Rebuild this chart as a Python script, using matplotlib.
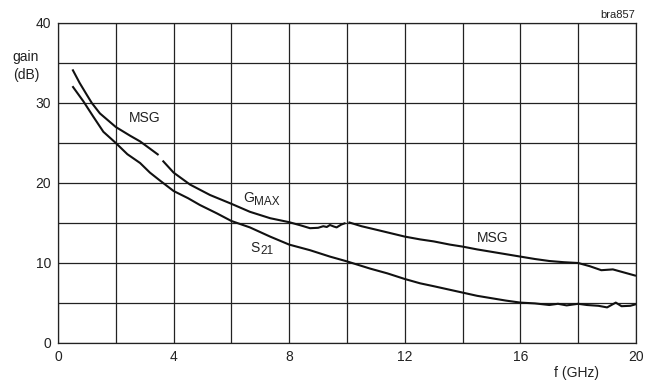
import numpy as np
import matplotlib
matplotlib.use("Agg")
import matplotlib.pyplot as plt

plt.rcParams['font.family'] = ['Liberation Sans', 'DejaVu Sans']

nan = np.nan
# upper curve: MSG / GMAX / MSG (gaps where the definition changes)
freq_g = [0.5, 0.75, 1.0, 1.17, 1.45, 2.0, 2.5, 2.84, 3.18, 3.48, nan,
          3.62, 4.0, 4.57, 5.26, 6.0, 6.64, 7.34, 8.0, 8.4, 8.72, 9.0, 9.18, 9.3,
          9.41, 9.55, 9.64, 9.8, 9.95, nan,
          10.05, 10.5, 11.14, 12.0, 12.53, 13.0, 13.56, 14.0, 14.5, 15.0, 15.5,
          16.0, 16.5, 17.0, 17.5, 18.0, 18.4, 18.8, 19.2, 19.6, 20.0]
gain_g = [34.2, 32.5, 31.0, 30.0, 28.7, 27.0, 25.9, 25.2, 24.3, 23.5, nan,
          22.8, 21.3, 19.8, 18.5, 17.4, 16.4, 15.6, 15.1, 14.7, 14.35, 14.4, 14.6, 14.5,
          14.75, 14.55, 14.45, 14.8, 15.0, nan,
          15.1, 14.6, 14.05, 13.3, 12.95, 12.7, 12.3, 12.05, 11.7, 11.4, 11.1,
          10.8, 10.5, 10.25, 10.1, 10.0, 9.6, 9.1, 9.2, 8.8, 8.4]

# lower curve: S21
freq_s = [0.5, 0.88, 1.22, 1.57, 2.0, 2.4, 2.84, 3.18, 3.53, 4.0, 4.5, 4.91,
          5.5, 6.0, 6.64, 7.34, 8.0, 8.72, 9.41, 10.0, 10.8, 11.4, 12.0, 12.53,
          13.0, 13.5, 14.0, 14.5, 15.0, 15.5, 16.0, 16.5, 17.0, 17.3, 17.6, 18.0,
          18.3, 18.7, 19.0, 19.3, 19.5, 19.8, 20.0]
gain_s = [32.1, 30.2, 28.3, 26.4, 25.0, 23.6, 22.5, 21.3, 20.3, 19.0, 18.1, 17.25,
          16.2, 15.25, 14.45, 13.3, 12.3, 11.6, 10.8, 10.2, 9.3, 8.7, 8.0, 7.46,
          7.1, 6.7, 6.3, 5.9, 5.6, 5.3, 5.05, 4.95, 4.75, 4.9, 4.7, 4.9,
          4.75, 4.65, 4.45, 5.05, 4.6, 4.65, 4.85]

xticks = [0, 4, 8, 12, 16, 20]
yticks = [0, 10, 20, 30, 40]

TXT = '#222222'
fig = plt.figure(figsize=(6.58, 3.84), dpi=100)
ax = fig.add_axes([58/658, 1-343/384, (636-58)/658, (343-23)/384])

ax.plot(freq_g, gain_g, color='#111111', lw=1.5, solid_capstyle='butt')
ax.plot(freq_s, gain_s, color='#111111', lw=1.5, solid_capstyle='butt')

ax.set_xlim(0, 20)
ax.set_ylim(0, 40)
ax.set_xticks(np.arange(0, 21, 2))
ax.set_yticks(np.arange(0, 41, 5))
ax.set_xticklabels([str(v) if v in xticks else '' for v in range(0, 21, 2)])
ax.set_yticklabels([str(v) if v in yticks else '' for v in range(0, 41, 5)])
ax.tick_params(length=0, labelsize=10, colors=TXT, pad=5)
ax.grid(True, color=TXT, lw=0.9)
for s in ax.spines.values():
    s.set_color(TXT)
    s.set_linewidth(0.9)
ax.set_axisbelow(True)

fig.text(26/658, 1-57/384, 'gain', ha='center', va='center', fontsize=10, color=TXT)
fig.text(26/658, 1-74.5/384, '(dB)', ha='center', va='center', fontsize=10, color=TXT)
fig.text(577/658, 1-373/384, 'f (GHz)', ha='center', va='center', fontsize=10, color=TXT)
fig.text(635/658, 1-15.5/384, 'bra857', ha='right', va='center', fontsize=8, color=TXT)

ax.text(3.0, 28.1, 'MSG', ha='center', va='center', fontsize=10, color=TXT)
ax.text(15.05, 13.1, 'MSG', ha='center', va='center', fontsize=10, color=TXT)

# G_MAX label
ax.annotate('G', xy=(6.40, 17.66), xytext=(0, 0), textcoords='offset points',
            ha='left', va='baseline', fontsize=10, color=TXT)
ax.annotate('MAX', xy=(6.40, 17.66), xytext=(8.0, -2.4), textcoords='offset points',
            ha='left', va='baseline', fontsize=8.5, color=TXT)
# S21 label
ax.annotate('S', xy=(6.67, 11.4), xytext=(0, 0), textcoords='offset points',
            ha='left', va='baseline', fontsize=10, color=TXT)
ax.annotate('21', xy=(6.67, 11.4), xytext=(7.0, -1.8), textcoords='offset points',
            ha='left', va='baseline', fontsize=8.5, color=TXT)

fig.savefig('out.png', dpi=100)
